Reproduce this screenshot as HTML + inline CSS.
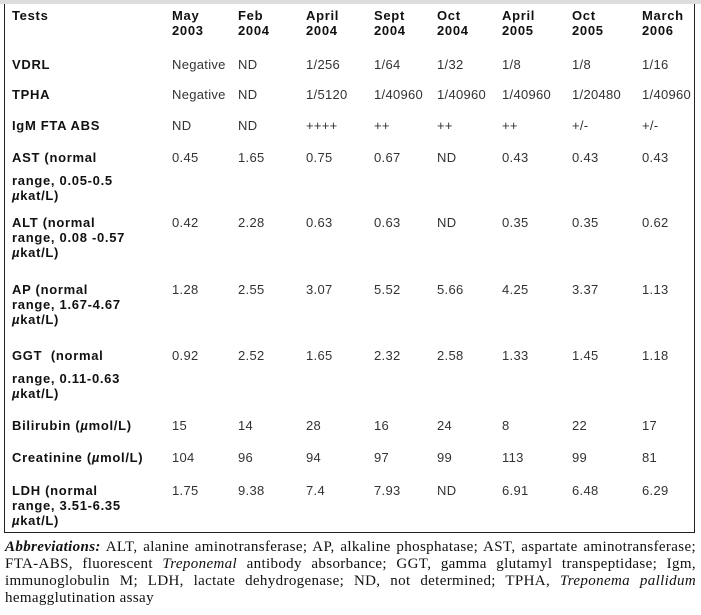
<!DOCTYPE html>
<html><head><meta charset="utf-8"><style>
body{margin:0;width:701px;height:615px;background:#fff;position:relative;overflow:hidden;font-family:"Liberation Sans",sans-serif;}
.top{position:absolute;left:0;top:0;width:701px;height:4px;background:#ddd;}
.box{position:absolute;left:4px;top:4px;width:689px;height:528px;border:1.5px solid #222;border-top:none;}
.t{position:absolute;font-size:13px;line-height:15px;color:#111;white-space:nowrap;}
.b{font-weight:bold;letter-spacing:0.7px;}
.d{color:#333;letter-spacing:0.3px;}
.cl{position:absolute;left:5px;width:691px;font-family:"Liberation Serif",serif;font-size:15px;letter-spacing:0.35px;line-height:17px;color:#111;white-space:nowrap;}
.j{text-align:justify;text-align-last:justify;white-space:normal;}
</style></head><body>
<div class="top"></div>
<div class="box"></div>
<div class="t b" style="left:12px;top:8px">Tests</div>
<div class="t b" style="left:172px;top:8px">May<br>2003</div>
<div class="t b" style="left:238px;top:8px">Feb<br>2004</div>
<div class="t b" style="left:306px;top:8px">April<br>2004</div>
<div class="t b" style="left:374px;top:8px">Sept<br>2004</div>
<div class="t b" style="left:437px;top:8px">Oct<br>2004</div>
<div class="t b" style="left:502px;top:8px">April<br>2005</div>
<div class="t b" style="left:572px;top:8px">Oct<br>2005</div>
<div class="t b" style="left:642px;top:8px">March<br>2006</div>

<div class="t b" style="left:12px;top:57px">VDRL</div>
<div class="t b" style="left:12px;top:87px">TPHA</div>
<div class="t b" style="left:12px;top:118px">IgM FTA ABS</div>
<div class="t b" style="left:12px;top:150px">AST (normal</div>
<div class="t b" style="left:12px;top:173px">range, 0.05-0.5<br><i>µ</i>kat/L)</div>
<div class="t b" style="left:12px;top:215px">ALT (normal<br>range, 0.08 -0.57<br><i>µ</i>kat/L)</div>
<div class="t b" style="left:12px;top:282px">AP (normal<br>range, 1.67-4.67<br><i>µ</i>kat/L)</div>
<div class="t b" style="left:12px;top:348px">GGT &nbsp;(normal</div>
<div class="t b" style="left:12px;top:371px">range, 0.11-0.63<br><i>µ</i>kat/L)</div>
<div class="t b" style="left:12px;top:418px">Bilirubin (<i>µ</i>mol/L)</div>
<div class="t b" style="left:12px;top:450px">Creatinine (<i>µ</i>mol/L)</div>
<div class="t b" style="left:12px;top:483px">LDH (normal<br>range, 3.51-6.35<br><i>µ</i>kat/L)</div>

<div id="data"></div>
<script>
var cols=[172,238,306,374,437,502,572,642];
var rows=[[57,["Negative","ND","1/256","1/64","1/32","1/8","1/8","1/16"]],
[87,["Negative","ND","1/5120","1/40960","1/40960","1/40960","1/20480","1/40960"]],
[118,["ND","ND","++++","++","++","++","+/-","+/-"]],
[150,["0.45","1.65","0.75","0.67","ND","0.43","0.43","0.43"]],
[215,["0.42","2.28","0.63","0.63","ND","0.35","0.35","0.62"]],
[282,["1.28","2.55","3.07","5.52","5.66","4.25","3.37","1.13"]],
[348,["0.92","2.52","1.65","2.32","2.58","1.33","1.45","1.18"]],
[418,["15","14","28","16","24","8","22","17"]],
[450,["104","96","94","97","99","113","99","81"]],
[483,["1.75","9.38","7.4","7.93","ND","6.91","6.48","6.29"]]];
var h="";
rows.forEach(function(r){r[1].forEach(function(v,i){h+='<div class="t d" style="left:'+cols[i]+'px;top:'+r[0]+'px">'+v+'</div>';});});
document.getElementById("data").innerHTML=h;
</script>
<div class="cl j" style="top:539px"><b><i>Abbreviations:</i></b> ALT, alanine aminotransferase; AP, alkaline phosphatase; AST, aspartate aminotransferase;</div>
<div class="cl j" style="top:556px">FTA-ABS, fluorescent <i>Treponemal</i> antibody absorbance; GGT, gamma glutamyl transpeptidase; Igm,</div>
<div class="cl j" style="top:573px">immunoglobulin M; LDH, lactate dehydrogenase; ND, not determined; TPHA, <i>Treponema pallidum</i></div>
<div class="cl" style="top:590px">hemagglutination assay</div>
</body></html>
